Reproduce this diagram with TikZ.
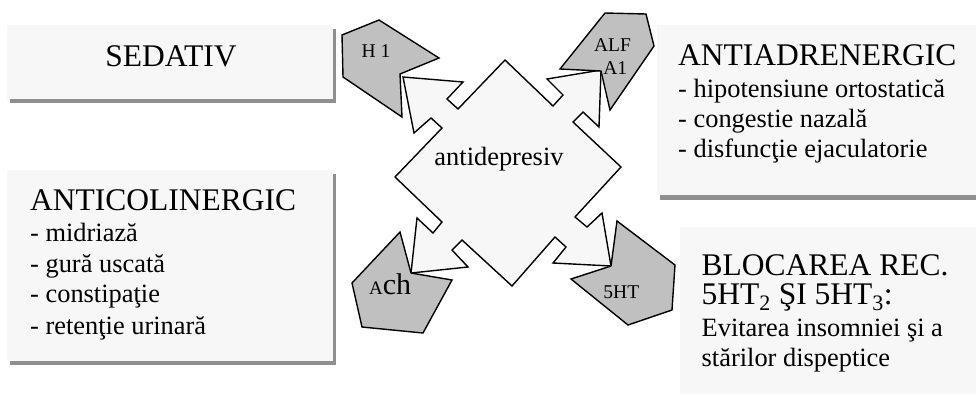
\documentclass[tikz,border=0pt]{standalone}
\usepackage{fontspec}
\setmainfont{Liberation Serif}
\definecolor{panelfill}{HTML}{F7F7F7}
\definecolor{panelshade}{HTML}{8F8F8F}
\definecolor{receptorfill}{HTML}{C0C0C0}
\begin{document}
\begin{tikzpicture}[x=1pt,y=-1pt,
  panel/.style={fill=panelfill, draw=none},
  panelshadow/.style={fill=panelshade, draw=none},
  receptor/.style={fill=receptorfill, draw=black, line width=1.4pt, line join=miter},
  hub/.style={fill=panelfill, draw=black, line width=1.4pt, line join=miter},
  heading/.style={font=\fontsize{31.5}{36}\selectfont, inner sep=0pt, anchor=base west},
  item/.style={font=\fontsize{26.4}{30}\selectfont, inner sep=0pt, anchor=base west},
  tag/.style={font=\fontsize{19.5}{23}\selectfont, inner sep=0pt, anchor=base},
]
\useasboundingbox (0,0) rectangle (976,394);
\fill[white] (0,0) rectangle (976,394);

% text panels with drop shadows
\fill[panelshadow] (10,29) rectangle (336,103);
\fill[panel] (6.5,25) rectangle (333,98.5);
\fill[panelshadow] (10,174) rectangle (336,365);
\fill[panel] (6.5,170) rectangle (333,360.5);
\fill[panelshadow] (660,29) rectangle (976,199.5);
\fill[panel] (656.5,25) rectangle (976,195);
\fill[panel] (680,227) rectangle (976,394);

% central four-arrow shape
\draw[hub] (505,60)
  -- (553,106) -- (563,95) -- (547,79) -- (601,70) -- (599,127) -- (583,112) -- (573,122)
  -- (621,167)
  -- (575,217) -- (587,227) -- (602,213) -- (611,266) -- (553,263) -- (566,247) -- (555,237)
  -- (512,286)
  -- (462,240) -- (452,250) -- (468,267) -- (411,273) -- (417,218) -- (433,233) -- (442,222)
  -- (395,177)
  -- (442,128) -- (431,118) -- (414,133) -- (403,77) -- (463,82) -- (447,99) -- (458,109)
  -- cycle;

% receptor shapes
\draw[receptor] (342,35) -- (379,20) -- (439,58) -- (400,74) -- (402,117) -- (343,77) -- cycle;
\draw[receptor] (605,13) -- (646,14) -- (654,46) -- (610,110) -- (601,71) -- (560,69) -- cycle;
\draw[receptor] (400,232) -- (411,273) -- (452,280) -- (423,333) -- (362,327) -- (352,283) -- cycle;
\draw[receptor] (617,221) -- (675,265) -- (672,310) -- (628,325) -- (571,279) -- (611,266) -- cycle;

% labels
\node[font=\fontsize{26.4}{30}\selectfont, inner sep=0pt, anchor=base] (hubtext) at (499,165.7) {antidepresiv};
\node[tag] (h1) at (376,57.5) {H 1};
\node[tag] (alf) at (612.5,51.7) {ALF};
\node[tag] (a1) at (615.3,74.5) {A1};
\node[tag] (ht) at (621.3,298.3) {5HT};
\node[inner sep=0pt, anchor=base west] (ach) at (369,294)
  {{\fontsize{19}{22}\selectfont A}{\fontsize{30}{34}\selectfont ch}};

\node[font=\fontsize{31.5}{36}\selectfont, inner sep=0pt, anchor=base] (sed) at (171,66.5) {SEDATIV};

\node[heading] (adr) at (678,65) {ANTIADRENERGIC};
\node[item] (adr1) at (678,97.5) {- hipotensiune ortostatică};
\node[item] (adr2) at (678,127.8) {- congestie nazală};
\node[item] (adr3) at (678,157.5) {- disfuncţie ejaculatorie};

\node[heading] (col) at (30,210) {ANTICOLINERGIC};
\node[item] (col1) at (30,241.5) {- midriază};
\node[item] (col2) at (30,272) {- gură uscată};
\node[item] (col3) at (30,302.8) {- constipaţie};
\node[item] (col4) at (30,334) {- retenţie urinară};

\node[heading] (blo) at (701.5,275) {BLOCAREA REC.};
\node[heading] (blo2) at (701.5,304) {5HT\textsubscript{2} ŞI 5HT\textsubscript{3}:};
\node[item] (blo3) at (701.5,336.7) {Evitarea insomniei şi a};
\node[item] (blo4) at (701.5,366.7) {stărilor dispeptice};
\end{tikzpicture}
\end{document}
